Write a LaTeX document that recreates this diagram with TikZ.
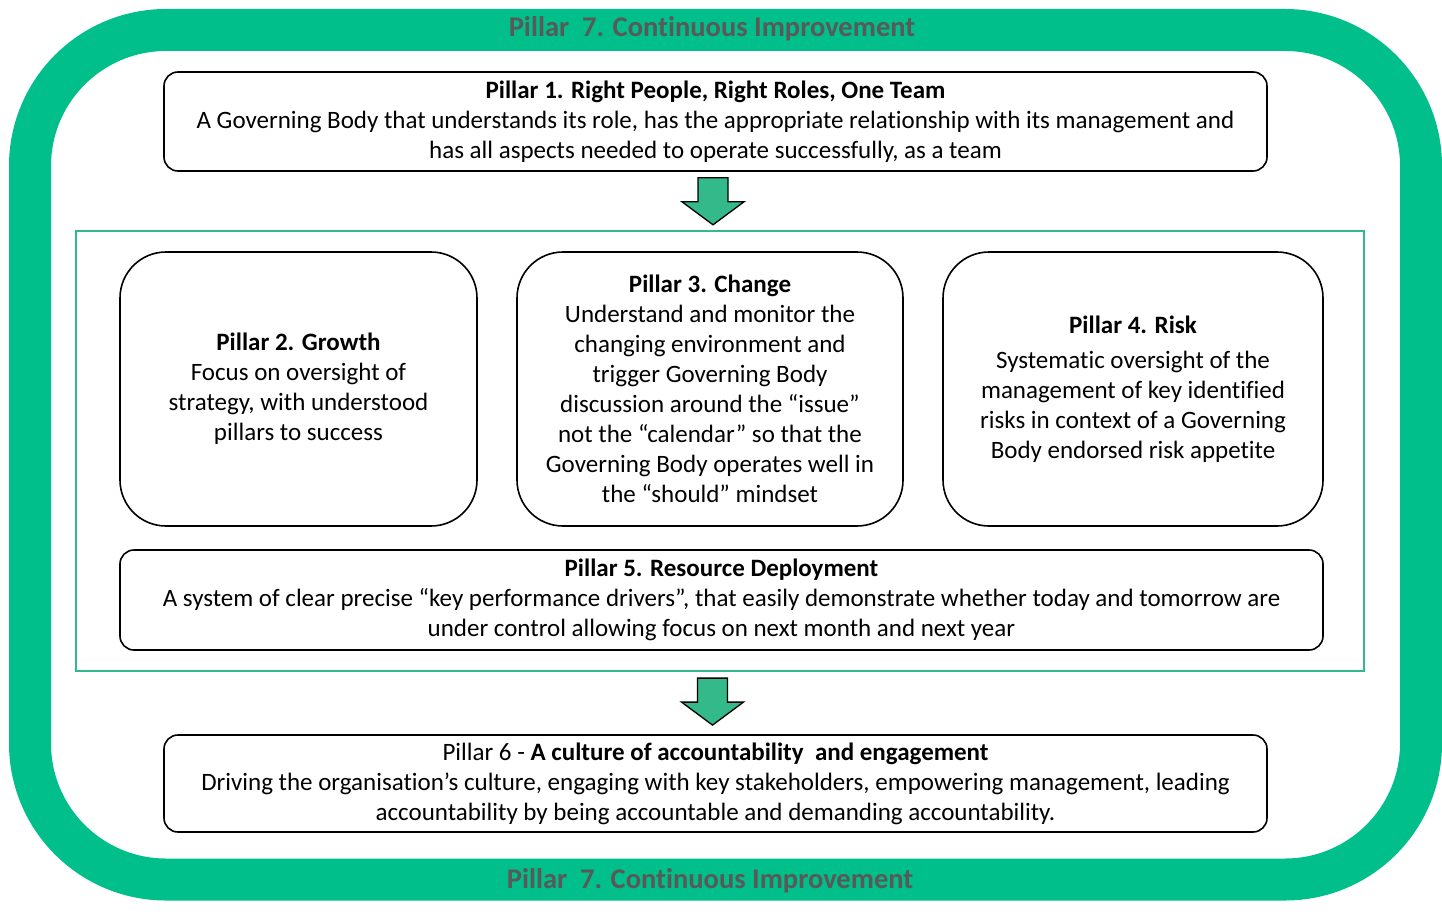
\documentclass[tikz,border=0pt]{standalone}
\usepackage{fontspec}
\setmainfont[Ligatures=NoCommon]{Carlito}
\usetikzlibrary{calc}
\definecolor{framegreen}{HTML}{00BF8A}
\definecolor{groupgreen}{HTML}{33B98A}
\definecolor{titlegray}{HTML}{595959}
\tikzset{
  box/.style={draw=black, line width=1.6pt, fill=white, inner sep=0pt, align=center,
    font=\fontsize{25}{30}\selectfont},
  flatbox/.style={box, rounded corners=14pt},
  tallbox/.style={box, rounded corners=46pt},
  frametitle/.style={text=titlegray, font=\fontsize{28.5}{30}\selectfont\bfseries, inner sep=0pt},
  downarrow/.pic={
    \draw[fill=groupgreen, draw=black, line width=1.3pt, line join=miter]
      (-15,0) -- (15,0) -- (15,24) -- (31,24) -- (0,47) -- (-31,24) -- (-15,24) -- cycle;
  }
}
\begin{document}
\begin{tikzpicture}[x=1pt, y=-1pt]
\useasboundingbox (0,0) rectangle (1442,915);
% outer frame (Pillar 7)
\draw[framegreen, line width=42pt, rounded corners=136pt] (30,30) rectangle (1421,879.5);
\node[frametitle] (p7top) at (712,29) {Pillar\ \ 7. Continuous Improvement};
\node[frametitle] (p7bot) at (710,881) {Pillar\ \ 7. Continuous Improvement};
% Pillar 1
\node[flatbox, minimum width=1103pt, minimum height=99pt] (p1) at (715.5,121.5)
  {\textbf{Pillar 1. Right People, Right Roles, One Team}\\
   A Governing Body that understands its role, has the appropriate relationship with its management and\\
   has all aspects needed to operate successfully, as a team};
% group frame
\node[draw=groupgreen, line width=2.2pt, minimum width=1288pt, minimum height=440pt, inner sep=0pt] (grp) at (720,451) {};
% Pillars 2-4
\node[tallbox, minimum width=357pt, minimum height=274pt] (p2) at (298.5,389)
  {\textbf{Pillar 2. Growth}\\ Focus on oversight of\\ strategy, with understood\\ pillars to success};
\node[tallbox, minimum width=386pt, minimum height=274pt] (p3) at (710,389)
  {\textbf{Pillar 3. Change}\\ Understand and monitor the\\ changing environment and\\ trigger Governing Body\\
   discussion around the “issue”\\ not the “calendar” so that the\\ Governing Body operates well in\\ the “should” mindset};
\node[tallbox, minimum width=380pt, minimum height=274pt] (p4) at (1133,389)
  {\textbf{Pillar 4. Risk}\\[5pt] Systematic oversight of the\\ management of key identified\\ risks in context of a Governing\\ Body endorsed risk appetite};
% Pillar 5
\node[flatbox, minimum width=1203pt, minimum height=100pt] (p5) at (721.5,600)
  {\textbf{Pillar 5. Resource Deployment}\\
   A system of clear precise “key performance drivers”, that easily demonstrate whether today and tomorrow are\\
   under control allowing focus on next month and next year};
% Pillar 6
\node[flatbox, minimum width=1103pt, minimum height=97pt] (p6) at (715.5,783.5)
  {Pillar 6 - \textbf{A culture of accountability\ \ and engagement}\\
   Driving the organisation’s culture, engaging with key stakeholders, empowering management, leading\\
   accountability by being accountable and demanding accountability.};
% arrows
\coordinate (a1) at ($(p1.south)+(-2.5,6)$);
\coordinate (a2) at ($(grp.south)+(-7.5,6)$);
\pic at (a1) {downarrow};
\pic at (a2) {downarrow};
\end{tikzpicture}
\end{document}
